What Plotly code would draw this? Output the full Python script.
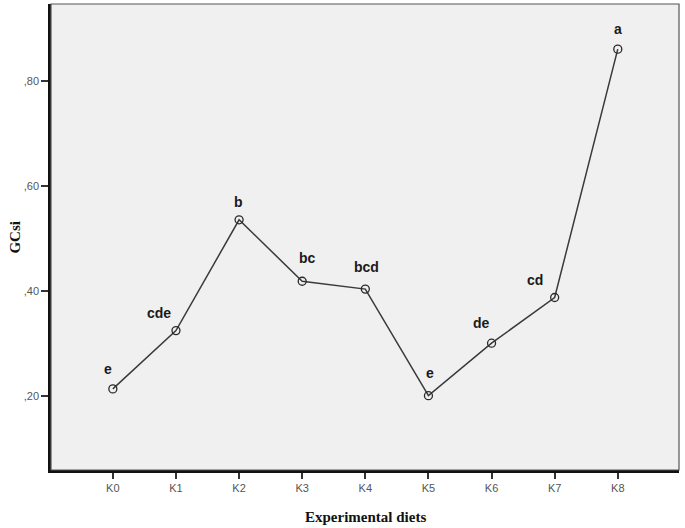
import plotly.graph_objects as go

diets = ["K0", "K1", "K2", "K3", "K4", "K5", "K6", "K7", "K8"]
gcsi = [0.213, 0.324, 0.535, 0.418, 0.403, 0.200, 0.300, 0.387, 0.860]
letters = ["e", "cde", "b", "bc", "bcd", "e", "de", "cd", "a"]
y_tick_vals = [0.2, 0.4, 0.6, 0.8]
y_tick_text = [",20", ",40", ",60", ",80"]

# label placement offsets (pixels) - style only
label_dx = [-5, -17, -1, 5, 1, 2, -10, -20, 0]
label_dy = [20, 18, 18, 23, 22, 23, 20, 18, 20]

fig = go.Figure()
fig.add_trace(go.Scatter(
    x=diets, y=gcsi, mode="lines+markers",
    line=dict(color="#3a3a3a", width=1.5),
    marker=dict(symbol="circle-open", size=8, color="#2a2a2a", line=dict(width=1.3)),
    showlegend=False, hoverinfo="x+y",
))

for i, (d, v, t) in enumerate(zip(diets, gcsi, letters)):
    fig.add_annotation(
        x=d, y=v, text=f"<b>{t}</b>", showarrow=False,
        xshift=label_dx[i], yshift=label_dy[i],
        font=dict(family="Liberation Sans, Arial, sans-serif", size=14, color="#1a1a1a"),
    )

# axis titles
fig.add_annotation(x=0.5, xref="paper", y=-0.101, yref="paper", yanchor="middle",
                   text="<b>Experimental diets</b>", showarrow=False,
                   font=dict(family="Liberation Serif, Times New Roman, serif", size=15, color="#111111"))
fig.add_annotation(x=-0.058, xref="paper", y=0.5, yref="paper", xanchor="center",
                   text="<b>GCsi</b>", showarrow=False, textangle=-90,
                   font=dict(family="Liberation Serif, Times New Roman, serif", size=15, color="#111111"))

# thin top/right frame
fig.add_shape(type="rect", xref="paper", yref="paper", x0=0, y0=0, x1=1, y1=1,
              line=dict(color="#555555", width=1.2), layer="above")

fig.update_layout(
    width=685, height=528,
    margin=dict(l=51, r=6, t=4, b=58),
    paper_bgcolor="white",
    plot_bgcolor="#f0f0f0",
    font=dict(family="Liberation Sans, Arial, sans-serif", size=11, color="#555555"),
    xaxis=dict(
        type="category", range=[-0.98, 8.97], automargin=False,
        showgrid=False, zeroline=False,
        showline=True, linecolor="#111111", linewidth=2.5,
        ticks="outside", ticklen=6, tickcolor="#333333", tickwidth=1.5,
        tickfont=dict(size=11, color="#555555"),
    ),
    yaxis=dict(
        range=[0.0585, 0.946], automargin=False,
        tickvals=y_tick_vals, ticktext=y_tick_text,
        showgrid=False, zeroline=False,
        showline=True, linecolor="#111111", linewidth=2.5,
        ticks="outside", ticklen=7, tickcolor="#333333", tickwidth=1.5,
        tickfont=dict(size=11, color="#555555"),
    ),
)

fig.write_html("out.html", config={"displayModeBar": False},
               post_script="document.body.style.margin='0';")
